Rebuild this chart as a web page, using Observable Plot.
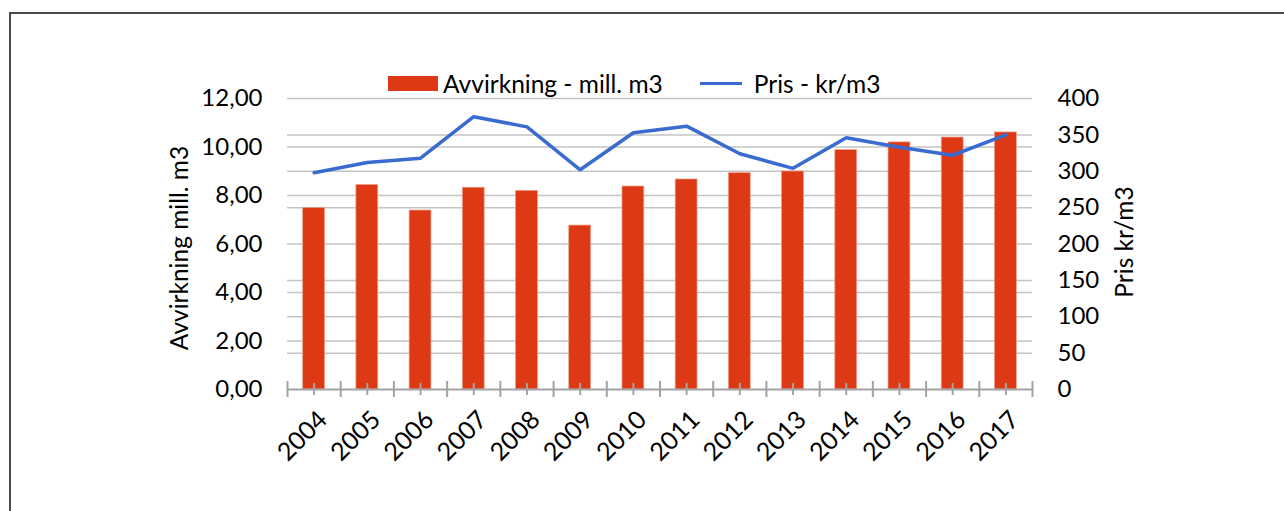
<!DOCTYPE html>
<html>
<head>
<meta charset="utf-8">
<script src="https://cdn.jsdelivr.net/npm/d3@7"></script>
<script src="https://cdn.jsdelivr.net/npm/@observablehq/plot@0.6"></script>
<style>
  html, body { margin: 0; padding: 0; background: #fff; }
  #wrap { position: relative; width: 1284px; height: 511px; overflow: hidden; font-family: Lato, sans-serif; }
  #frame { position: absolute; left: 9px; top: 12px; width: 1300px; height: 520px; border-left: 2px solid #4a4a4a; border-top: 2px solid #4a4a4a; }
  #legend { position: absolute; top: 69px; left: 388px; display: flex; align-items: center; font-size: 24.5px; color: #000; white-space: nowrap; }
  .sw-bar { width: 50px; height: 15px; background: #dd3914; margin-right: 5px; }
  .sw-line { width: 42px; height: 3.5px; background: #3a6bd0; margin-left: 37px; margin-right: 12px; }
  #chart { position: absolute; left: 0; top: 0; }
</style>
</head>
<body>
<div id="wrap">
  <div id="frame"></div>
  <div id="chart"></div>
  <div id="legend">
    <div class="sw-bar"></div><span>Avvirkning - mill. m3</span>
    <div class="sw-line"></div><span>Pris - kr/m3</span>
  </div>
</div>
<script>
const years = [2004, 2005, 2006, 2007, 2008, 2009, 2010, 2011, 2012, 2013, 2014, 2015, 2016, 2017];
const avvirkning = [7.48, 8.43, 7.38, 8.32, 8.19, 6.76, 8.37, 8.66, 8.92, 8.99, 9.87, 10.19, 10.39, 10.6];
const pris = [298, 312, 318, 375, 361, 302, 353, 362, 324, 304, 346, 333, 322, 350];
const leftTicks = [0, 2, 4, 6, 8, 10, 12];
const rightTicks = [0, 50, 100, 150, 200, 250, 300, 350, 400];
const leftLabel = "Avvirkning mill. m3";
const rightLabel = "Pris kr/m3";

const k = 12 / 400; // right axis (kr/m3) to left axis (mill. m3) units
const data = years.map((y, i) => ({year: y, avv: avvirkning[i], pris: pris[i]}));
const boundaries = years.map(y => y - 0.5).concat([years[years.length - 1] + 0.5]);
const gridVals = Array.from(new Set(leftTicks.concat(rightTicks.map(v => v * k)))).filter(v => v > 0);
const halfBar = 0.205;

const chart = Plot.plot({
  width: 1284,
  height: 511,
  marginLeft: 287,
  marginRight: 252,
  marginTop: 98,
  marginBottom: 122,
  style: {fontFamily: "Lato, sans-serif", fontSize: "24px", color: "#000", background: "transparent"},
  x: {type: "linear", domain: [years[0] - 0.5, years[years.length - 1] + 0.5], axis: null},
  y: {domain: [0, 12], axis: null},
  marks: [
    Plot.ruleY(gridVals, {stroke: "#c4c4c4", strokeWidth: 1.5}),
    Plot.rectY(data, {x1: d => d.year - halfBar, x2: d => d.year + halfBar, y: "avv", fill: "#dd3914", stroke: "#ee9a85", strokeWidth: 0.7}),
    Plot.ruleY([0], {stroke: "#a3a3a3", strokeWidth: 2}),
    Plot.ruleX(boundaries, {x: d => d, y1: 0, y2: 0, insetTop: -8, insetBottom: -8, stroke: "#a3a3a3", strokeWidth: 2}),
    Plot.ruleX(years, {x: d => d, y1: 0, y2: 0, insetTop: -6, insetBottom: -6, stroke: "#a3a3a3", strokeWidth: 2}),
    Plot.lineY(data, {x: "year", y: d => d.pris * k, stroke: "#3a6bd0", strokeWidth: 3.5, strokeLinejoin: "miter"}),
    Plot.axisY(leftTicks, {anchor: "left", tickSize: 0, tickPadding: 25, fontSize: 24, tickFormat: d => d.toFixed(2).replace(".", ","), label: null}),
    Plot.axisY(rightTicks.map(v => v * k), {anchor: "right", tickSize: 0, tickPadding: 25, fontSize: 24, tickFormat: d => String(Math.round(d / k)), label: null}),
    Plot.text(years, {x: d => d, y: 0, text: d => String(d), rotate: -45, textAnchor: "end", lineAnchor: "middle", fontSize: 25, dx: 9, dy: 26}),
    Plot.text([leftLabel], {frameAnchor: "left", textAnchor: "middle", lineAnchor: "middle", rotate: -90, fontSize: 24.5, dx: -107, dy: 4, text: d => d}),
    Plot.text([rightLabel], {frameAnchor: "right", textAnchor: "middle", lineAnchor: "middle", rotate: -90, fontSize: 24.5, dx: 93, dy: -2, text: d => d})
  ]
});
document.getElementById("chart").appendChild(chart);
</script>
</body>
</html>
